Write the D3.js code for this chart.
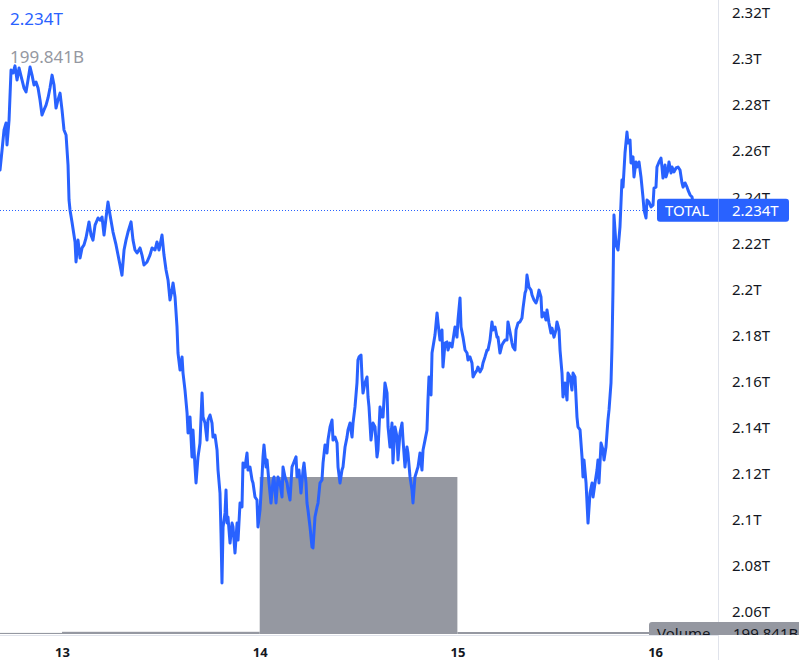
<!DOCTYPE html>
<html><head><meta charset="utf-8">
<script src="https://cdn.jsdelivr.net/npm/d3@7"></script>
<style>body{margin:0;background:#fff}svg{display:block}text{font-family:"Noto Sans",Roboto,sans-serif}</style>
</head><body><svg id="c" width="799" height="660"></svg>
<script>
// hours relative to day 13, 00:00
const hours=[-7.53,-7.28,-7.04,-6.80,-6.68,-6.43,-6.19,-5.95,-5.71,-5.46,-5.22,-4.86,-4.61,-4.37,-4.13,-3.88,-3.64,-3.40,-3.16,-2.91,-2.67,-2.43,-2.19,-1.94,-1.70,-1.46,-1.21,-0.97,-0.73,-0.49,-0.24,0,0.24,0.49,0.73,0.85,0.97,1.21,1.58,1.70,1.94,2.19,2.43,2.67,2.91,3.28,3.52,3.76,4.01,4.37,4.61,4.86,5.10,5.34,5.58,5.83,6.19,6.56,6.80,7.04,7.28,7.53,7.77,8.01,8.38,8.62,8.86,9.11,9.47,9.71,9.95,10.32,10.68,10.93,11.29,11.53,11.78,12.02,12.14,12.38,12.63,12.87,13.11,13.35,13.48,13.72,
13.96,14.08,14.33,14.57,14.69,14.93,15.18,15.30,15.54,15.78,15.90,16.15,16.27,16.51,16.75,17.00,17.12,17.36,17.60,17.72,17.97,18.21,18.33,18.57,18.82,18.94,19.18,19.30,19.42,19.55,19.79,19.91,20.03,20.15,20.40,20.64,20.76,21.00,21.25,21.37,21.61,21.85,21.97,22.22,22.46,22.58,22.82,23.07,23.19,23.43,23.67,23.79,24.04,24.28,24.40,24.52,24.77,24.89,25.13,25.37,25.62,25.74,25.98,26.22,26.47,26.71,26.83,27.07,27.32,27.44,27.68,27.92,28.16,28.41,28.53,28.77,29.01,29.26,29.38,29.62,29.74,29.86,30.11,30.35,30.47,30.71,30.96,31.08,31.32,31.56,31.69,31.93,32.17,32.29,32.54,32.78,32.90,33.14,33.39,33.51,33.75,33.99,34.11,34.36,34.60,34.72,34.96,35.21,35.33,35.57,35.81,35.93,36.06,36.30,36.42,36.54,36.78,37.03,37.15,37.27,37.51,37.76,38.00,38.24,38.36,38.61,38.85,38.97,39.21,39.46,39.58,39.82,40.06,40.18,40.43,40.67,40.79,41.03,41.28,41.40,41.64,41.88,42.00,42.25,42.49,42.61,42.85,43.10,43.22,43.46,43.70,43.83,44.07,44.31,44.43,44.55,44.80,44.92,45.04,45.28,45.53,45.65,45.89,46.13,46.25,46.50,46.74,46.86,47.10,47.35,47.47,47.71,47.95,48.07,48.32,48.44,48.68,48.93,49.17,49.29,49.53,49.77,49.90,50.14,50.38,50.50,50.75,50.99,51.11,51.35,51.60,51.72,51.96,52.20,52.32,52.57,52.81,52.93,53.17,53.42,53.54,53.78,54.02,54.14,54.39,54.63,54.75,54.99,55.12,55.36,55.60,55.84,55.97,56.21,56.33,56.45,56.69,56.94,57.06,57.30,57.54,57.67,57.91,58.15,58.27,58.52,58.76,58.88,59.12,59.36,59.49,59.73,59.97,60.09,60.34,60.46,60.70,60.82,61.07,61.31,61.43,61.67,61.91,62.04,62.28,62.52,62.64,62.89,63.13,63.25,63.37,63.62,63.74,63.86,64.10,64.35,64.47,64.71,64.95,65.07,65.19,65.44,65.68,65.80,66.04,66.28,66.41,66.65,66.77,66.89,67.01,67.26,67.50,67.74,67.98,68.11,68.35,68.59,68.71,68.96,69.08,69.32,69.44,69.68,69.81,70.05,70.29,70.53,70.66,70.90,71.02,71.26,71.51,71.75,71.87,72.11,72.23,72.48,72.72,72.84,72.96,73.21,73.33,73.57,73.69,73.94,74.06,74.30,74.55,74.79,75.03,75.27,75.40,75.64,75.88,76.00,76.25,76.49,76.72];
// TOTAL market cap, billions USD
const totalB=[2251.8,2260.5,2269.2,2272.2,2262.7,2273.5,2295.2,2293.9,2297.0,2290.9,2296.1,2290.9,2287.4,2285.7,2290.9,2296.5,2293.0,2288.7,2290.0,2287.4,2282.2,2275.7,2277.9,2280.0,2283.1,2287.4,2293.0,2288.7,2278.7,2282.2,2285.2,2277.9,2269.2,2267.0,2254.0,2238.8,2234.5,2229.3,2220.6,2211.9,2221.4,2213.6,2218.0,2219.3,2222.3,2229.3,2223.6,2221.4,2227.9,2231.0,2230.1,2231.4,2223.6,2231.0,2237.9,2232.3,2224.9,2219.3,2214.9,2210.6,2206.2,2217.1,2221.4,2224.9,2229.3,2221.4,2217.1,2215.8,2218.0,2214.9,2210.6,2211.9,2214.9,2218.0,2217.1,2220.6,2217.1,2221.4,2223.6,2214.9,2208.4,2204.1,2195.4,2199.7,2202.8,2196.7,
2183.7,2172.4,2165.0,2170.7,2163.7,2156.3,2146.4,2137.7,2144.6,2127.3,2139.0,2122.9,2116.0,2127.3,2133.3,2155.0,2144.6,2142.0,2134.6,2143.3,2145.5,2142.0,2135.9,2136.8,2130.3,2121.6,2111.6,2094.3,2072.6,2096.9,2103.0,2112.9,2098.6,2101.2,2089.9,2098.6,2096.9,2085.6,2098.6,2091.2,2107.3,2105.6,2124.7,2122.9,2129.0,2121.6,2122.9,2117.3,2116.0,2109.9,2108.6,2096.9,2104.3,2118.6,2127.3,2132.5,2122.9,2126.0,2116.0,2107.3,2117.3,2118.6,2107.3,2118.6,2116.0,2109.9,2122.9,2118.6,2116.0,2112.9,2108.6,2122.9,2125.1,2127.3,2118.6,2121.6,2111.6,2121.6,2124.7,2116.0,2107.3,2104.3,2096.9,2088.2,2087.8,2101.2,2105.6,2107.3,2116.0,2117.3,2124.7,2132.5,2129.0,2134.6,2140.3,2143.3,2134.6,2135.9,2133.3,2122.9,2116.0,2121.6,2122.9,2131.6,2135.9,2139.0,2142.0,2135.9,2142.0,2149.0,2159.4,2169.4,2170.7,2171.5,2162.0,2155.0,2159.4,2162.0,2153.3,2149.0,2134.6,2142.0,2140.3,2127.3,2130.3,2149.0,2144.6,2144.6,2159.4,2155.0,2140.3,2131.6,2142.0,2124.7,2140.3,2135.9,2126.0,2137.7,2142.0,2134.6,2122.9,2131.6,2129.0,2118.6,2112.9,2107.3,2118.6,2121.6,2122.9,2129.0,2121.6,2130.3,2134.6,2139.0,2152.0,2162.0,2154.2,2172.4,2175.0,2180.2,2189.8,2185.4,2178.0,2182.4,2166.3,2176.7,2177.2,2173.7,2176.7,2175.0,2178.0,2183.7,2179.3,2186.7,2196.3,2183.7,2179.3,2173.7,2172.4,2169.4,2170.7,2168.1,2162.0,2163.7,2165.0,2166.3,2164.2,2165.9,2168.1,2170.7,2173.7,2173.7,2178.0,2185.9,2182.4,2183.7,2179.3,2179.3,2172.4,2175.9,2176.7,2178.0,2178.0,2185.9,2181.5,2176.7,2175.0,2173.7,2182.4,2185.4,2185.9,2187.6,2191.9,2198.4,2199.7,2206.2,2201.0,2199.7,2197.6,2195.4,2194.1,2195.4,2199.7,2196.7,2188.0,2189.8,2186.7,2191.1,2185.4,2181.1,2183.2,2179.3,2182.4,2185.9,2182.4,2173.7,2163.7,2153.3,2159.4,2152.0,2163.7,2162.0,2156.3,2163.7,2162.0,2144.6,2140.3,2139.0,2127.3,2118.6,2126.0,2116.0,2107.3,2098.6,2111.6,2116.0,2109.9,2116.0,2121.6,2126.0,2116.0,2133.3,2130.3,2126.0,2131.6,2143.3,2147.7,2159.4,2175.0,2199.7,2232.3,2219.3,2217.1,2227.1,2247.5,2244.4,2259.2,2268.3,2263.5,2264.8,2254.9,2257.5,2248.8,2255.3,2253.1,2255.3,2248.8,2240.1,2234.5,2231.0,2238.8,2237.9,2235.8,2236.6,2244.0,2244.4,2253.1,2255.3,2257.0,2253.1,2248.3,2254.0,2248.8,2251.8,2255.3,2250.5,2253.1,2251.0,2252.7,2253.1,2251.8,2246.2,2244.4,2246.2,2244.4,2243.1,2241.0,2240.1,2234.4];
const dayTicks=[13,14,15,16];
const priceTicksB=[2060,2080,2100,2120,2140,2160,2180,2200,2220,2240,2260,2280,2300,2320];
const volDays=[12,13,14,15,16];
const volumeB=[110,220,15700,200,199.841];
const seriesName="TOTAL", volumeName="Volume";

const svg=d3.select("#c");
const plotR=718, plotB=635;
const x=d3.scaleLinear().domain([-7.53,79.64]).range([0,plotR]);
const y=d3.scaleLinear().domain([2060,2320]).range([612,12.9]);
const yv=d3.scaleLinear().domain([0,16000]).range([634,474]);
const dayH=d=>(d-13)*24;
const blue="#2962ff", grayVol="#9598a1", txt="#131722", grid="#e0e3eb";

svg.append("defs").append("clipPath").attr("id","plot").append("rect").attr("x",0).attr("y",0).attr("width",plotR).attr("height",plotB);
const g=svg.append("g").attr("clip-path","url(#plot)");

// volume
g.selectAll("rect.vol").data(volDays).join("rect").attr("class","vol")
  .attr("x",(d)=>Math.max(0,x(dayH(d))))
  .attr("width",(d)=>Math.min(plotR,x(dayH(d+1)))-Math.max(0,x(dayH(d))))
  .attr("y",(d,i)=>yv(volumeB[i])).attr("height",(d,i)=>yv(0)-yv(volumeB[i]))
  .attr("fill",grayVol);

const last=totalB[totalB.length-1];
// dotted last price line
g.append("line").attr("x1",0).attr("x2",plotR).attr("y1",Math.round(y(last))+0.5).attr("y2",Math.round(y(last))+0.5)
 .attr("stroke",blue).attr("stroke-width",1).attr("stroke-dasharray","1,2");

const pts=hours.map((h,i)=>[h,totalB[i]]);
g.append("path").datum(pts).attr("fill","none").attr("stroke",blue).attr("stroke-width",3)
 .attr("stroke-linejoin","round").attr("stroke-linecap","round")
 .attr("d",d3.line().x(d=>x(d[0])).y(d=>y(d[1])));

// separator
svg.append("line").attr("x1",0).attr("x2",plotR).attr("y1",plotB+0.5).attr("y2",plotB+0.5).attr("stroke",grid);

// y axis
const fmtT=v=>String(+(v/1000).toFixed(2))+"T";
const ya=svg.append("g").attr("transform",`translate(${plotR},0)`)
 .call(d3.axisRight(y).tickValues(priceTicksB).tickFormat(fmtT).tickSize(0).tickPadding(14));
ya.select(".domain").remove();
ya.selectAll("text").attr("font-size",15).attr("fill",txt).attr("font-family","'Noto Sans',sans-serif");

// x axis
const xa=svg.append("g").attr("transform",`translate(0,${plotB})`)
 .call(d3.axisBottom(x).tickValues(dayTicks.map(dayH)).tickFormat((h)=>String(13+h/24)).tickSize(0).tickPadding(13));
xa.select(".domain").remove();
xa.selectAll("text").attr("font-size",13).attr("font-weight","bold").attr("fill",txt).attr("font-family","'Noto Sans',sans-serif");

// axis border
svg.append("line").attr("x1",plotR+0.5).attr("x2",plotR+0.5).attr("y1",0).attr("y2",660).attr("stroke",grid);

// last value label
const ly=y(last);
const lab=svg.append("g");
lab.append("rect").attr("x",657).attr("y",ly-11.5).attr("width",132).attr("height",23).attr("rx",3).attr("fill",blue);
lab.append("text").attr("x",665).attr("y",ly).attr("dy","0.36em").attr("fill","#fff").attr("font-size",15).text(seriesName);
lab.append("text").attr("x",732).attr("y",ly).attr("dy","0.36em").attr("fill","#fff").attr("font-size",15).text((last/1000).toFixed(3)+"T");
svg.append("line").attr("x1",plotR+0.5).attr("x2",plotR+0.5).attr("y1",ly-11.5).attr("y2",ly+11.5).attr("stroke","#fff").attr("stroke-opacity",0.35);

// volume label (clipped at pane bottom)
svg.append("clipPath").attr("id","vclip").append("rect").attr("x",0).attr("y",0).attr("width",799).attr("height",plotB);
const vl=svg.append("g").attr("clip-path","url(#vclip)");
const lastVol=volumeB[volumeB.length-1];
vl.append("rect").attr("x",649).attr("y",622).attr("width",160).attr("height",30).attr("rx",3).attr("fill",grayVol);
vl.append("text").attr("x",657).attr("y",639).attr("font-size",15).attr("fill",txt).text(volumeName);
vl.append("text").attr("x",733).attr("y",639).attr("font-size",15).attr("fill",txt).text(lastVol.toFixed(3)+"B");

// legend
svg.append("text").attr("x",10).attr("y",25).attr("font-size",17).attr("fill",blue).text((last/1000).toFixed(3)+"T");
svg.append("text").attr("x",10).attr("y",63).attr("font-size",17).attr("fill",grayVol).text(lastVol.toFixed(3)+"B");
</script></body></html>
